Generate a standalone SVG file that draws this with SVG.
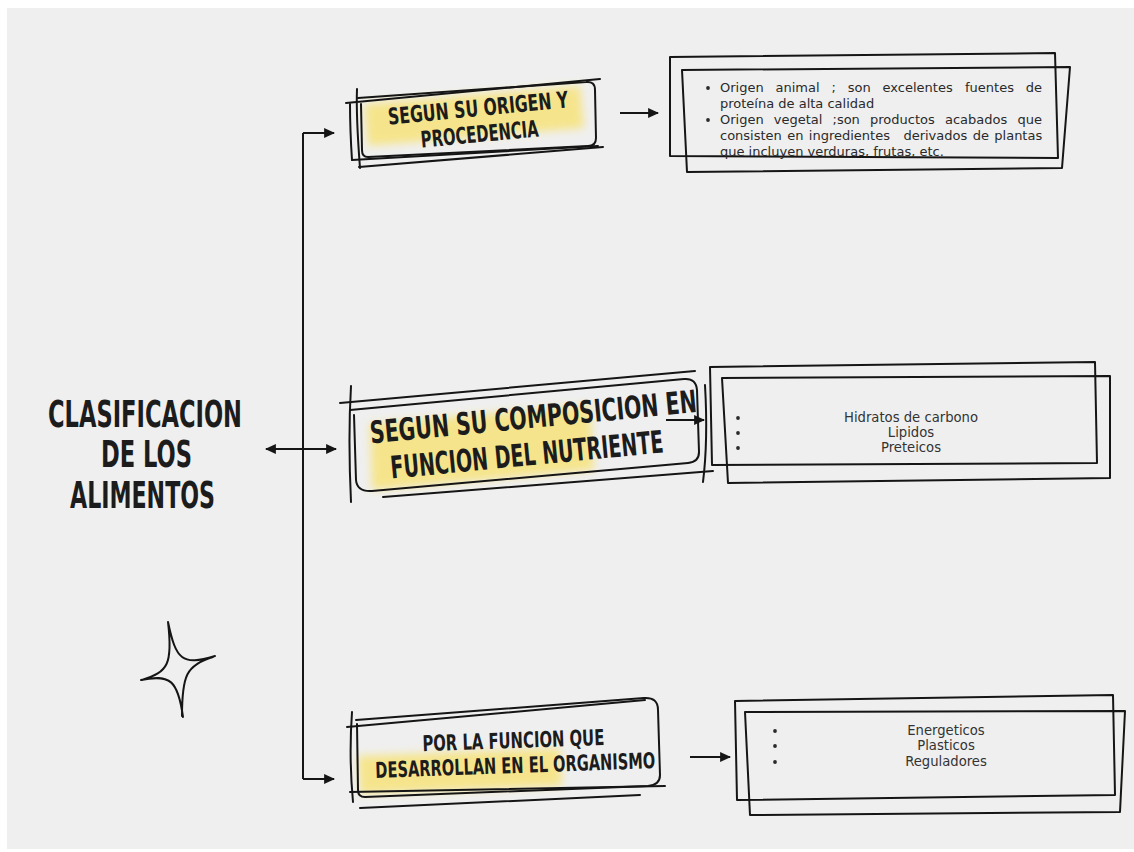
<svg xmlns="http://www.w3.org/2000/svg" width="1134" height="852" viewBox="0 0 1134 852">
<defs>
<style>
.sk{fill:none;stroke:#151515;stroke-width:2;stroke-linecap:round;stroke-linejoin:round}
.ln{fill:none;stroke:#151515;stroke-width:2}
.hd{font-family:"Liberation Sans Narrow","DejaVu Sans Condensed","Liberation Sans",sans-serif;font-weight:bold;fill:#1c1c1c;text-anchor:middle}
.bd{font-family:"DejaVu Sans","Open Sans",sans-serif;font-size:13px;fill:#2a2a2a}
.bc{font-family:"DejaVu Sans","Open Sans",sans-serif;font-size:13.2px;fill:#333333;text-anchor:middle}
.hl{fill:#f7e37a;opacity:0.85;filter:url(#blur)}
.dot{fill:#2a2a2a}
</style>
<filter id="blur" x="-10%" y="-30%" width="120%" height="160%"><feGaussianBlur stdDeviation="4"/></filter>
<marker id="ah" viewBox="0 0 10 10" refX="9" refY="5" markerUnits="userSpaceOnUse" markerWidth="11" markerHeight="11" orient="auto-start-reverse">
<path d="M0,0.5 L10,5 L0,9.5 z" fill="#151515"/>
</marker>
</defs>
<rect x="0" y="0" width="1134" height="852" fill="#ffffff"/>
<rect x="7" y="8" width="1127" height="841" fill="#efefef"/>

<g id="title">
<text class="hd" x="145" y="427" font-size="38" textLength="194" lengthAdjust="spacingAndGlyphs">CLASIFICACION</text>
<text class="hd" x="146.5" y="467" font-size="38" textLength="91" lengthAdjust="spacingAndGlyphs">DE LOS</text>
<text class="hd" x="142.5" y="508" font-size="38" textLength="145" lengthAdjust="spacingAndGlyphs">ALIMENTOS</text>
</g>

<g id="star">
<path class="sk" d="M168,622 C176,660 182,666 215,656 M213,657 C186,665 182,676 182,716 M183,717 C178,680 170,674 141,680 M142,680 C168,672 173,664 168,622"/>
</g>

<g id="connectors">
<path class="ln" d="M303,133 L303,779"/>
<path class="ln" d="M303,133 L334,133" marker-end="url(#ah)"/>
<path class="ln" d="M303,779 L334,779" marker-end="url(#ah)"/>
<path class="ln" d="M266,449 L336,449" marker-start="url(#ah)" marker-end="url(#ah)"/>
<path class="ln" d="M620,113 L658,113" marker-end="url(#ah)"/>
<path class="ln" d="M666,420 L704,420" marker-end="url(#ah)"/>
<path class="ln" d="M690,757 L730,757" marker-end="url(#ah)"/>
</g>

<g id="node-origen">
<path class="hl" d="M364,104 L580,86 L584,128 L368,146 Z"/>
<path class="sk" d="M346,103 L600,79"/>
<path class="sk" d="M358,98 L586,82 Q595,81 595,90 L596,138 Q596,146 588,146 L368,157 Q362,157 362,150 L361,104"/>
<path class="sk" d="M357,89 C356,115 358,142 360,168"/>
<path class="sk" d="M350,104 C350,125 351,145 352,160"/>
<path class="sk" d="M359,167 L603,147"/>
<path class="sk" d="M352,160 L598,146"/>
<g transform="rotate(-5.5 480 128)">
<text class="hd" x="480" y="116" font-size="23" textLength="181" lengthAdjust="spacingAndGlyphs">SEGUN SU ORIGEN Y</text>
<text class="hd" x="479" y="142" font-size="23" textLength="118" lengthAdjust="spacingAndGlyphs">PROCEDENCIA</text>
</g>
</g>

<g id="info-origen">
<path class="sk" d="M670,57 L1055,53 L1058,158 L670,156 Z"/>
<path class="sk" d="M682,70 L1070,67 L1062,168 L687,172 Z"/>
<circle class="dot" cx="708" cy="88" r="1.9"/>
<circle class="dot" cx="708" cy="120" r="1.9"/>
<text class="bd" y="92"><tspan x="720">Origen</tspan><tspan x="775.5">animal</tspan><tspan x="831.5">;</tspan><tspan x="847.7">son</tspan><tspan x="882.6">excelentes</tspan><tspan x="965">fuentes</tspan><tspan x="1025.8">de</tspan></text>
<text class="bd" x="720" y="108">proteína de alta calidad</text>
<text class="bd" y="124"><tspan x="720">Origen</tspan><tspan x="773.8">vegetal</tspan><tspan x="832.5">;son</tspan><tspan x="870">productos</tspan><tspan x="945">acabados</tspan><tspan x="1017.5">que</tspan></text>
<text class="bd" y="140"><tspan x="720">consisten</tspan><tspan x="787.2">en</tspan><tspan x="808.8">ingredientes</tspan><tspan x="903.4">derivados</tspan><tspan x="972.7">de</tspan><tspan x="994.3">plantas</tspan></text>
<text class="bd" x="720" y="156">que incluyen verduras, frutas, etc.</text>
</g>

<g id="node-composicion">
<path class="hl" d="M370,424 L590,405 L594,470 L372,490 Z"/>
<path class="sk" d="M340,403 L695,371"/>
<path class="sk" d="M350,410 L684,379 Q696,378 697,390 L699,452 Q699,462 688,463 L372,491 Q357,492 356,480 L354,415"/>
<path class="sk" d="M351,386 C349,420 349,460 351,502"/>
<path class="sk" d="M383,497 L713,471"/>
<path class="sk" d="M705,385 C707,420 707,450 703,482"/>
<g transform="rotate(-5.5 532 446)">
<text class="hd" x="536" y="428" font-size="31" textLength="328" lengthAdjust="spacingAndGlyphs">SEGUN SU COMPOSICION EN</text>
<text class="hd" x="526" y="465" font-size="31" textLength="274" lengthAdjust="spacingAndGlyphs">FUNCION DEL NUTRIENTE</text>
</g>
</g>

<g id="info-composicion">
<path class="sk" d="M710,367 L1095,362 L1097,463 L712,465 Z"/>
<path class="sk" d="M722,378 L1110,376 L1110,478 L728,483 Z"/>
<circle class="dot" cx="738" cy="418" r="1.9"/>
<circle class="dot" cx="738" cy="433" r="1.9"/>
<circle class="dot" cx="738" cy="448" r="1.9"/>
<text class="bc" x="911" y="422">Hidratos de carbono</text>
<text class="bc" x="911" y="437">Lipidos</text>
<text class="bc" x="911" y="452">Preteicos</text>
</g>

<g id="node-funcion">
<path class="hl" d="M358,756 L560,748 L562,786 L360,794 Z"/>
<path class="sk" d="M347,727 L645,700"/>
<path class="sk" d="M356,720 L644,698 Q658,697 658,710 L660,775 Q660,785 648,786 L365,797 Q358,797 358,790 L357,724"/>
<path class="sk" d="M352,712 C350,740 350,770 353,802"/>
<path class="sk" d="M350,792 L665,786"/>
<path class="sk" d="M360,808 L640,795"/>
<g transform="rotate(-2 515 760)">
<text class="hd" x="514" y="748" font-size="22" textLength="182" lengthAdjust="spacingAndGlyphs">POR LA FUNCION QUE</text>
<text class="hd" x="515" y="773" font-size="22" textLength="280" lengthAdjust="spacingAndGlyphs">DESARROLLAN EN EL ORGANISMO</text>
</g>
</g>

<g id="info-funcion">
<path class="sk" d="M735,701 L1113,695 L1115,795 L737,800 Z"/>
<path class="sk" d="M745,712 L1125,711 L1120,812 L750,815 Z"/>
<circle class="dot" cx="775" cy="731" r="1.9"/>
<circle class="dot" cx="775" cy="746" r="1.9"/>
<circle class="dot" cx="775" cy="762" r="1.9"/>
<text class="bc" x="946" y="735">Energeticos</text>
<text class="bc" x="946" y="750">Plasticos</text>
<text class="bc" x="946" y="766">Reguladores</text>
</g>
</svg>
